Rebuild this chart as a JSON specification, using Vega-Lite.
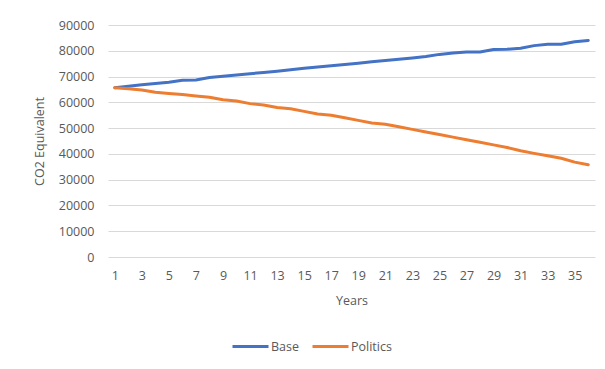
{
  "$schema": "https://vega.github.io/schema/vega-lite/v6.json",
  "autosize": "none",
  "width": 487,
  "height": 232,
  "padding": {"left": 108, "top": 25, "right": 10, "bottom": 112},
  "background": "white",
  "config": {
    "view": {"stroke": null},
    "font": "Open Sans"
  },
  "data": {
    "values": [
      {"year": 1, "series": "Base", "value": 65700},
      {"year": 2, "series": "Base", "value": 66200},
      {"year": 3, "series": "Base", "value": 66800},
      {"year": 4, "series": "Base", "value": 67300},
      {"year": 5, "series": "Base", "value": 67800},
      {"year": 6, "series": "Base", "value": 68600},
      {"year": 7, "series": "Base", "value": 68700},
      {"year": 8, "series": "Base", "value": 69600},
      {"year": 9, "series": "Base", "value": 70100},
      {"year": 10, "series": "Base", "value": 70600},
      {"year": 11, "series": "Base", "value": 71100},
      {"year": 12, "series": "Base", "value": 71600},
      {"year": 13, "series": "Base", "value": 72100},
      {"year": 14, "series": "Base", "value": 72600},
      {"year": 15, "series": "Base", "value": 73200},
      {"year": 16, "series": "Base", "value": 73700},
      {"year": 17, "series": "Base", "value": 74200},
      {"year": 18, "series": "Base", "value": 74700},
      {"year": 19, "series": "Base", "value": 75200},
      {"year": 20, "series": "Base", "value": 75700},
      {"year": 21, "series": "Base", "value": 76200},
      {"year": 22, "series": "Base", "value": 76700},
      {"year": 23, "series": "Base", "value": 77200},
      {"year": 24, "series": "Base", "value": 77800},
      {"year": 25, "series": "Base", "value": 78600},
      {"year": 26, "series": "Base", "value": 79100},
      {"year": 27, "series": "Base", "value": 79500},
      {"year": 28, "series": "Base", "value": 79500},
      {"year": 29, "series": "Base", "value": 80500},
      {"year": 30, "series": "Base", "value": 80600},
      {"year": 31, "series": "Base", "value": 81000},
      {"year": 32, "series": "Base", "value": 82000},
      {"year": 33, "series": "Base", "value": 82500},
      {"year": 34, "series": "Base", "value": 82500},
      {"year": 35, "series": "Base", "value": 83500},
      {"year": 36, "series": "Base", "value": 84000},
      {"year": 1, "series": "Politics", "value": 65700},
      {"year": 2, "series": "Politics", "value": 65300},
      {"year": 3, "series": "Politics", "value": 64800},
      {"year": 4, "series": "Politics", "value": 63900},
      {"year": 5, "series": "Politics", "value": 63400},
      {"year": 6, "series": "Politics", "value": 63000},
      {"year": 7, "series": "Politics", "value": 62500},
      {"year": 8, "series": "Politics", "value": 62000},
      {"year": 9, "series": "Politics", "value": 61000},
      {"year": 10, "series": "Politics", "value": 60500},
      {"year": 11, "series": "Politics", "value": 59500},
      {"year": 12, "series": "Politics", "value": 59000},
      {"year": 13, "series": "Politics", "value": 58000},
      {"year": 14, "series": "Politics", "value": 57500},
      {"year": 15, "series": "Politics", "value": 56500},
      {"year": 16, "series": "Politics", "value": 55500},
      {"year": 17, "series": "Politics", "value": 55000},
      {"year": 18, "series": "Politics", "value": 54000},
      {"year": 19, "series": "Politics", "value": 53000},
      {"year": 20, "series": "Politics", "value": 52000},
      {"year": 21, "series": "Politics", "value": 51500},
      {"year": 22, "series": "Politics", "value": 50500},
      {"year": 23, "series": "Politics", "value": 49500},
      {"year": 24, "series": "Politics", "value": 48500},
      {"year": 25, "series": "Politics", "value": 47500},
      {"year": 26, "series": "Politics", "value": 46500},
      {"year": 27, "series": "Politics", "value": 45500},
      {"year": 28, "series": "Politics", "value": 44500},
      {"year": 29, "series": "Politics", "value": 43500},
      {"year": 30, "series": "Politics", "value": 42500},
      {"year": 31, "series": "Politics", "value": 41200},
      {"year": 32, "series": "Politics", "value": 40200},
      {"year": 33, "series": "Politics", "value": 39300},
      {"year": 34, "series": "Politics", "value": 38300},
      {"year": 35, "series": "Politics", "value": 36800},
      {"year": 36, "series": "Politics", "value": 35800}
    ]
  },
  "mark": {"type": "line", "strokeWidth": 3, "strokeCap": "round", "strokeJoin": "round"},
  "encoding": {
    "x": {
      "field": "year",
      "type": "ordinal",
      "scale": {"type": "point", "padding": 0.5},
      "axis": {
        "title": "Years",
        "values": [1,3,5,7,9,11,13,15,17,19,21,23,25,27,29,31,33,35],
        "labelAngle": 0,
        "labelFontSize": 12.5,
        "labelColor": "#595959",
        "labelPadding": 12,
        "ticks": false,
        "domain": false,
        "grid": false,
        "titleFontSize": 12.5,
        "titleFontWeight": "normal",
        "titleColor": "#595959",
        "titlePadding": 13
      }
    },
    "y": {
      "field": "value",
      "type": "quantitative",
      "scale": {"domain": [0, 90000], "nice": false},
      "axis": {
        "title": "CO2 Equivalent",
        "values": [0,10000,20000,30000,40000,50000,60000,70000,80000,90000],
        "format": "d",
        "labelFontSize": 12.5,
        "labelColor": "#595959",
        "labelPadding": 14,
        "ticks": false,
        "domain": false,
        "gridColor": "#d9d9d9",
        "gridWidth": 1,
        "titleFontSize": 12.5,
        "titleFontWeight": "normal",
        "titleColor": "#595959",
        "titlePadding": 12
      }
    },
    "color": {
      "field": "series",
      "type": "nominal",
      "scale": {"domain": ["Base", "Politics"], "range": ["#4472C4", "#ED7D31"]},
      "legend": {
        "title": null,
        "orient": "none",
        "direction": "horizontal",
        "legendX": 123,
        "legendY": 302,
        "symbolType": "stroke",
        "symbolSize": 1296,
        "symbolStrokeWidth": 3,
        "labelFontSize": 12.5,
        "labelColor": "#595959",
        "labelOffset": 1,
        "columnPadding": 7
      }
    }
  }
}
